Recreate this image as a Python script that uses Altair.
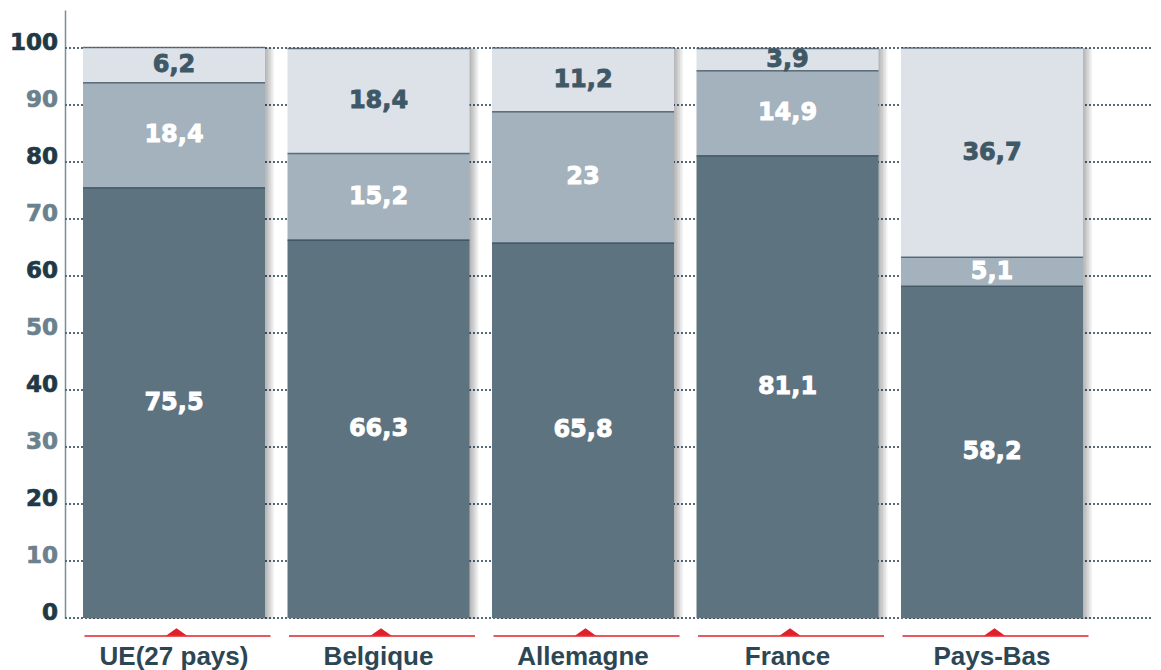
import altair as alt
import pandas as pd

countries = ["UE(27 pays)", "Belgique", "Allemagne", "France", "Pays-Bas"]
s1 = [75.5, 66.3, 65.8, 81.1, 58.2]
s2 = [18.4, 15.2, 23, 14.9, 5.1]
s3 = [6.2, 18.4, 11.2, 3.9, 36.7]
y_ticks = list(range(0, 101, 10))

series = [("s1", s1, "#5e7380", "#ffffff"),
          ("s2", s2, "#a3b2bc", "#ffffff"),
          ("s3", s3, "#dde2e9", "#3f5866")]

rows = []
for i, c in enumerate(countries):
    cum = 0.0
    for name, vals, fill, tc in series:
        v = vals[i]
        rows.append({"country": c, "series": name, "value": v,
                     "start": cum, "end": cum + v, "mid": cum + v / 2,
                     "label": f"{v:g}".replace(".", ","),
                     "fill": fill, "tc": tc})
        cum += v
df = pd.DataFrame(rows)
tot = pd.DataFrame({"country": countries, "zero": 0,
                    "total": [a + b + c for a, b, c in zip(s1, s2, s3)]})
ticks = pd.DataFrame({"v": y_ticks,
                      "lab": [str(t) for t in y_ticks],
                      "col": ["#1f3947" if t % 20 == 0 else "#6b818d" for t in y_ticks]})

W, H = 1088, 608
xscale = alt.Scale(domain=countries, range=[18, 1018], paddingInner=0.11, paddingOuter=0)
yscale = alt.Scale(domain=[0, H / 5.7], nice=False, zero=True)

X = alt.X("country:N", sort=countries, scale=xscale, title=None,
          axis=alt.Axis(domain=False, ticks=False, tickSize=0, labelAngle=0,
                        labelAlign="center",
                        labelFont="Liberation Sans", labelFontSize=26,
                        labelFontWeight="bold", labelColor="#2d4654",
                        labelPadding=25, labelBaseline="top"))
Y = alt.Y("start:Q", scale=yscale, title=None,
          axis=alt.Axis(values=y_ticks, domain=True, domainColor="#7a8d98",
                        domainWidth=1.5, ticks=False, tickSize=0,
                        grid=False, labels=False))

grid = alt.Chart(ticks).mark_rule(color="#546b7a", strokeWidth=2,
                                  strokeDash=[2, 2]).encode(
    y=alt.Y("v:Q", scale=yscale), x=alt.value(0), x2=alt.value(W))

ylabels = alt.Chart(ticks).mark_text(font="DejaVu Sans", fontWeight="bold",
                                     fontSize=23, align="right",
                                     baseline="alphabetic", dy=2,
                                     strokeWidth=0.7).encode(
    y=alt.Y("v:Q", scale=yscale), x=alt.value(-7), text="lab:N",
    color=alt.Color("col:N", scale=None), stroke=alt.Stroke("col:N", scale=None))

layers = []
# shadow
for k in [1.5, 3, 4.5, 6, 7.5, 9]:
    layers.append(alt.Chart(tot).mark_bar(color="#000000", opacity=0.05,
                                          xOffset=k, yOffset=1).encode(
        x=alt.X("country:N", sort=countries, scale=xscale),
        y=alt.Y("zero:Q", scale=yscale), y2="total:Q"))

bars = alt.Chart(df).mark_bar().encode(
    x=X, y=Y, y2="end:Q", fill=alt.Fill("fill:N", scale=None))

edges = alt.Chart(df).mark_tick(thickness=1.5, size=182, color="#2b4250").encode(
    x=alt.X("country:N", sort=countries), y=alt.Y("end:Q"))

texts = alt.Chart(df).mark_text(font="DejaVu Sans", fontWeight="bold",
                                fontSize=24, baseline="middle",
                                strokeWidth=0.9).encode(
    x=alt.X("country:N", sort=countries), y=alt.Y("mid:Q"),
    text="label:N", color=alt.Color("tc:N", scale=None),
    stroke=alt.Stroke("tc:N", scale=None))

redline = alt.Chart(tot).mark_bar(size=186, xOffset=3.5, color="#e0202a").encode(
    x=alt.X("country:N", sort=countries), y=alt.value(625.2), y2=alt.value(626.7))

tri = alt.Chart(tot).mark_point(shape="M-1,0L1,0L0,-0.7Z", size=450, filled=True,
                                opacity=1, color="#e0202a", xOffset=2.5).encode(
    x=alt.X("country:N", sort=countries), y=alt.value(625.8))

chart = alt.layer(grid, *layers, bars, edges, texts, redline, tri, ylabels).properties(
    width=W, height=H,
    padding={"left": 57, "top": 2, "right": 0, "bottom": 60},
    autosize=alt.AutoSizeParams(type="none"),
).configure(background="#ffffff").configure_view(stroke=None, strokeWidth=0)

chart.save("out.html", embed_options={"renderer": "svg", "actions": False})
